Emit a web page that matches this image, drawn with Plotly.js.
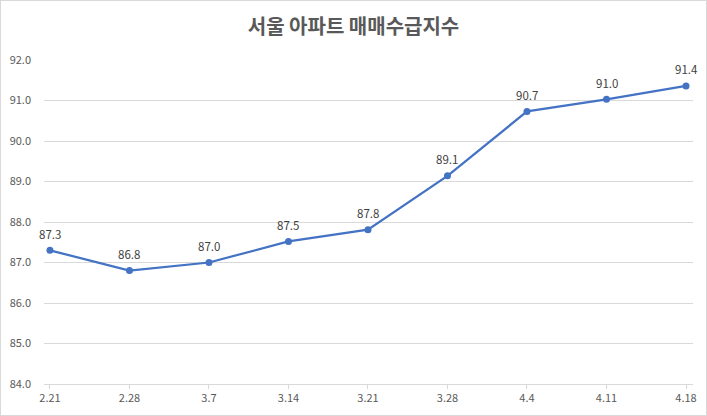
<!DOCTYPE html>
<html><head><meta charset="utf-8">
<script src="https://cdn.plot.ly/plotly-3.0.1.min.js"></script>
<style>
html,body{margin:0;padding:0;background:#fff;}
#wrap{position:relative;width:707px;height:416px;}
#chart{position:absolute;left:0;top:0;width:707px;height:416px;}
#border{position:absolute;left:0;top:0;width:705px;height:414px;border:1px solid #d9d9d9;pointer-events:none;}
</style></head>
<body>
<div id="wrap"><div id="chart"></div><div id="border"></div></div>
<script>
const categories = ["2.21","2.28","3.7","3.14","3.21","3.28","4.4","4.11","4.18"];
const values = [87.30, 86.80, 87.00, 87.52, 87.81, 89.14, 90.73, 91.03, 91.36];
const yTicks = [84,85,86,87,88,89,90,91,92];

const font = "'Noto Sans CJK KR', 'Noto Sans', sans-serif";
const xs = categories.map((c,i)=>i);
const labels = values.map((v,i)=>({
  x: xs[i], y: v, xref:'x', yref:'y',
  text: v.toFixed(1), showarrow:false,
  yanchor:'middle', xanchor:'center', yshift:16.5,
  font:{family:font, size:11.5, color:'#404040'}
}));
Plotly.newPlot('chart', [{
  x: xs,
  y: values,
  type: 'scatter',
  mode: 'lines+markers',
  line: {color:'#4472C4', width:2.25},
  marker: {color:'#4472C4', size:7},
  cliponaxis: false,
  hoverinfo: 'skip'
}], {
  width:707, height:416,
  margin:{l:44, r:14, t:59.5, b:32},
  paper_bgcolor:'#fff', plot_bgcolor:'#fff',
  showlegend:false,
  annotations: labels,
  title:{text:'<b>서울 아파트 매매수급지수</b>', x:0.5, xanchor:'center', y:0.935, yanchor:'middle',
    font:{family:font, size:20, color:'#595959'}},
  xaxis:{
    range:[-0.075, 8.088],
    tickmode:'array', tickvals:xs, ticktext:categories,
    showgrid:false, zeroline:false,
    showline:true, linecolor:'#d9d9d9', linewidth:1,
    ticks:'outside', ticklen:4, tickcolor:'#d9d9d9',
    tickfont:{family:font, size:11, color:'#595959'}
  },
  yaxis:{
    range:[84,92],
    tickmode:'array', tickvals:yTicks, ticktext:yTicks.map(v=>v.toFixed(1)),
    showgrid:true, gridcolor:'#d9d9d9', gridwidth:1,
    zeroline:false, showline:false, ticks:'',
    ticklabelstandoff:12,
    tickfont:{family:font, size:11, color:'#595959'}
  }
}, {displayModeBar:false, staticPlot:true});
</script>
</body></html>
